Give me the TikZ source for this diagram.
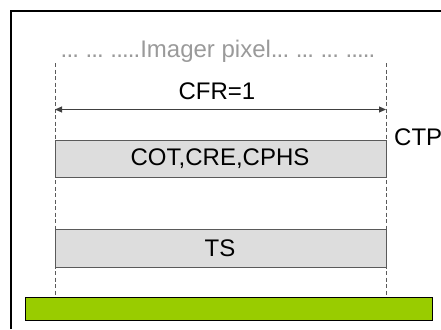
\documentclass[tikz,border=0pt]{standalone}
\usepackage{fontspec}
\setmainfont{Liberation Sans}
\usetikzlibrary{arrows.meta}
\definecolor{boxgray}{HTML}{DDDDDD}
\definecolor{edgegray}{HTML}{5A5A5A}
\definecolor{labelgray}{HTML}{9A9A9A}
\definecolor{substrate}{HTML}{99CC00}
% a tight run of three dots
\newcommand{\tightdots}{.\kern-0.9pt.\kern-0.9pt.}
\begin{document}
\begin{tikzpicture}[x=1pt,y=-1pt,
  lbl/.style={font=\fontsize{24}{28}\selectfont, inner sep=0pt, anchor=center},
  layerbox/.style={draw=edgegray, line width=1pt, fill=boxgray},
  guide/.style={draw=edgegray, line width=1pt, dash pattern=on 4pt off 2.5pt},
  dim/.style={draw=black!75, line width=1pt, {Triangle[length=7pt,width=6pt]}-{Triangle[length=7pt,width=6pt]}}]
  \useasboundingbox (0,0) rectangle (441,329);
  % outer frame (open to the right and bottom)
  \draw[line width=1.3pt] (11,329) -- (11,11) -- (441,11);
  % pixel boundaries
  \coordinate (gl top) at (55,63);
  \coordinate (gl bot) at (55,297);
  \coordinate (gr top) at (386,63);
  \coordinate (gr bot) at (386,297);
  \draw[guide] (gl top) -- (gl bot);
  \draw[guide] (gr top) -- (gr bot);
  % title
  \node[lbl, text=labelgray] (title) at (218,51)
    {\tightdots\ \tightdots\ \tightdots\kern-0.9pt.\kern-0.9pt.Imager pixel\tightdots\ \tightdots\ \tightdots\ \tightdots\kern-0.9pt.\kern-0.9pt.};
  % cloud fraction arrow
  \coordinate (al) at (55,109.5);
  \coordinate (ar) at (386,109.5);
  \draw[dim] (al) -- (ar);
  \node[lbl] (cfr) at (217,91) {CFR=1};
  % layers
  \draw[layerbox] (55,140) rectangle (386,177);
  \node[lbl] (cot) at (220,159) {COT,CRE,CPHS};
  \node[lbl, anchor=west] (ctp) at (394,137.5) {CTP};
  \draw[layerbox] (55,229) rectangle (386,267);
  \node[lbl] (ts) at (220,248.5) {TS};
  % surface
  \draw[fill=substrate, draw=black, line width=1pt] (25,297) rectangle (432,320);
\end{tikzpicture}
\end{document}
